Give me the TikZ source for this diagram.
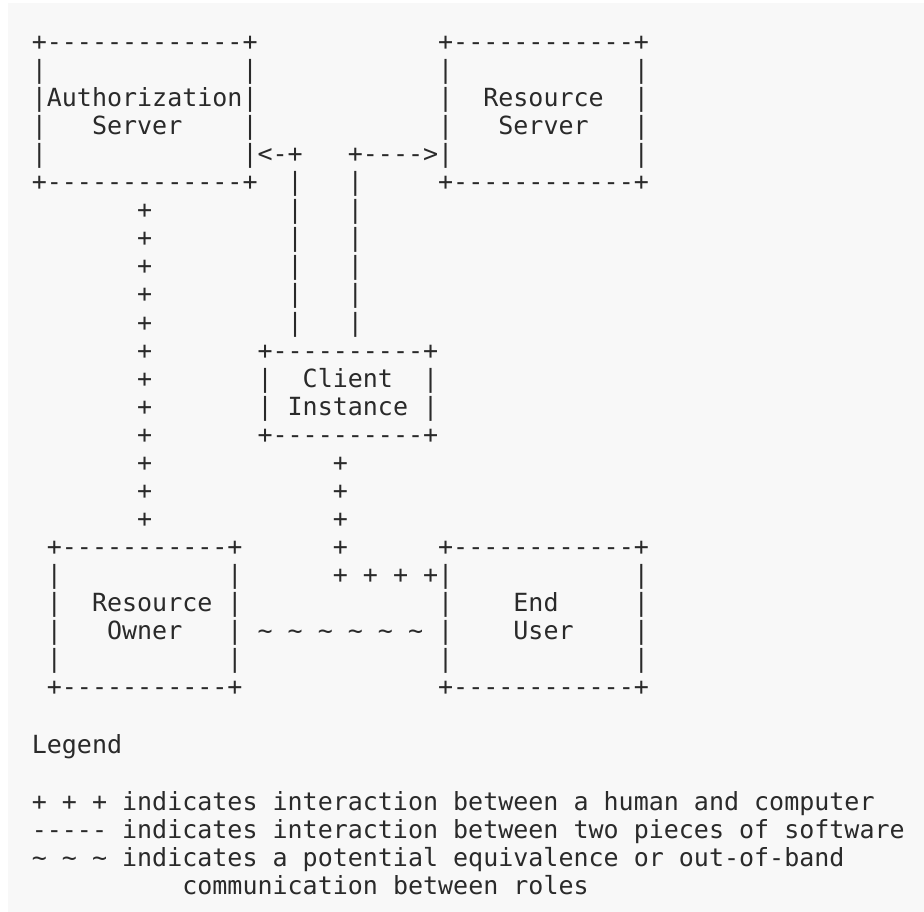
\documentclass[tikz,border=0pt]{standalone}
\usepackage{fontspec}
\setmonofont{DejaVu Sans Mono}
\definecolor{bgcol}{HTML}{F8F8F8}
\definecolor{ink}{HTML}{2A2A2A}
\newcommand\artsize{\fontsize{25pt}{28pt}\selectfont}
\newcommand\tld{\char126\relax}
\newcommand\cw{15.05}
\newcommand\xo{31.8}
\newcommand\putart[4]{\node[art] (#1) at ({\xo+#2*\cw},{50.7+#3*28.03}) {#4};}
\newcommand\putleg[4]{\node[art] (#1) at ({\xo+#2*\cw},{#3}) {#4};}
\begin{document}
\begin{tikzpicture}[x=1pt,y=-1pt,
  art/.style={anchor=base west,inner sep=0pt,outer sep=0pt,text=ink,font=\ttfamily\artsize}]
\useasboundingbox (0,0) rectangle (924,912);
\fill[bgcol] (8,3) rectangle (924,912);
% Authorization Server box
\putart{asT}{0}{0}{+-------------+}
\putart{asL1}{0}{1}{|}
\putart{asR1}{14}{1}{|}
\putart{asName}{0}{2}{|Authorization|}
\putart{asL3}{0}{3}{|}
\putart{asSrv}{4}{3}{Server}
\putart{asR3}{14}{3}{|}
\putart{asL4}{0}{4}{|}
\putart{asArr}{14}{4}{|<-+}
\putart{asB}{0}{5}{+-------------+}
% Resource Server box
\putart{rsT}{27}{0}{+------------+}
\putart{rsL1}{27}{1}{|}
\putart{rsR1}{40}{1}{|}
\putart{rsL2}{27}{2}{|}
\putart{rsRes}{30}{2}{Resource}
\putart{rsR2}{40}{2}{|}
\putart{rsL3}{27}{3}{|}
\putart{rsSrv}{31}{3}{Server}
\putart{rsR3}{40}{3}{|}
\putart{rsArr}{21}{4}{+---->|}
\putart{rsR4}{40}{4}{|}
\putart{rsB}{27}{5}{+------------+}
% software links
\foreach \r in {5,...,10}{
  \putart{swA\r}{17}{\r}{|}
  \putart{swB\r}{21}{\r}{|}
}
% human link owner - AS
\foreach \r in {6,...,17}{
  \putart{hA\r}{7}{\r}{+}
}
% Client Instance box
\putart{ciT}{15}{11}{+----------+}
\putart{ciL12}{15}{12}{|}
\putart{ciName}{18}{12}{Client}
\putart{ciR12}{26}{12}{|}
\putart{ciL13}{15}{13}{|}
\putart{ciInst}{17}{13}{Instance}
\putart{ciR13}{26}{13}{|}
\putart{ciB}{15}{14}{+----------+}
% human link client - end user
\foreach \r in {15,...,18}{
  \putart{hB\r}{20}{\r}{+}
}
\putart{hBrow}{20}{19}{+ + + +|}
% Resource Owner box
\putart{roT}{1}{18}{+-----------+}
\putart{roL19}{1}{19}{|}
\putart{roR19}{13}{19}{|}
\putart{roL20}{1}{20}{|}
\putart{roRes}{4}{20}{Resource}
\putart{roR20}{13}{20}{|}
\putart{roL21}{1}{21}{|}
\putart{roOwn}{5}{21}{Owner}
\putart{roR21}{13}{21}{|}
\putart{roL22}{1}{22}{|}
\putart{roR22}{13}{22}{|}
\putart{roB}{1}{23}{+-----------+}
% out-of-band
\putart{oob}{15}{21}{\tld{} \tld{} \tld{} \tld{} \tld{} \tld}
% End User box
\putart{euT}{27}{18}{+------------+}
\putart{euR19}{40}{19}{|}
\putart{euL20}{27}{20}{|}
\putart{euEnd}{32}{20}{End}
\putart{euR20}{40}{20}{|}
\putart{euL21}{27}{21}{|}
\putart{euUser}{32}{21}{User}
\putart{euR21}{40}{21}{|}
\putart{euL22}{27}{22}{|}
\putart{euR22}{40}{22}{|}
\putart{euB}{27}{23}{+------------+}
% Legend
\putleg{lgTitle}{0}{753.5}{Legend}
\putleg{lgA}{0}{810}{+ + + indicates interaction between a human and computer}
\putleg{lgB}{0}{838}{----- indicates interaction between two pieces of software}
\putleg{lgC}{0}{866}{\tld{} \tld{} \tld{} indicates a potential equivalence or out-of-band}
\putleg{lgD}{10}{894}{communication between roles}
\end{tikzpicture}
\end{document}
